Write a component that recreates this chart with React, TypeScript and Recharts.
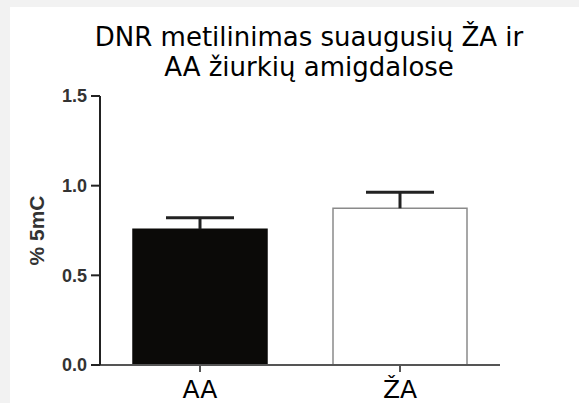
import { BarChart, Bar, XAxis, YAxis, Cell } from "recharts";

const groups = ["AA", "ŽA"];
const means = [0.757, 0.874];
const errors = [0.064, 0.089];
const yTicks = [0, 0.5, 1.0, 1.5];
const fills = ["#0b0a08", "#ffffff"];
const strokes = ["#0b0a08", "#8a8a8a"];

const data = groups.map((g, i) => ({ group: g, mean: means[i], err: errors[i] }));

// upward-only error bar drawn on top of the stacked mean
function ErrShape(props: any) {
  const { x, y, width, height } = props;
  const cx = x + width / 2;
  return (
    <g stroke="#222" strokeWidth={3}>
      <line x1={cx} y1={y} x2={cx} y2={y + height} />
      <line x1={cx - 34} y1={y} x2={cx + 34} y2={y} />
    </g>
  );
}

export default function App() {
  return (
    <div
      style={{
        position: "absolute",
        left: 0,
        top: 0,
        width: 579,
        height: 403,
        background: "#f2f2f2",
        fontFamily: "'DejaVu Sans', sans-serif",
      }}
    >
      <div style={{ position: "absolute", left: 10, top: 7, right: 0, bottom: 0, background: "#fff" }} />
      <div
        style={{
          position: "absolute",
          left: 90,
          top: 22,
          width: 438,
          textAlign: "center",
          fontSize: 26,
          lineHeight: "30px",
          color: "#000",
        }}
      >
        DNR metilinimas suaugusių ŽA ir
        <br />
        AA žiurkių amigdalose
      </div>
      <div style={{ position: "absolute", left: 0, top: 0 }}>
        <BarChart
          width={579}
          height={403}
          data={data}
          margin={{ top: 96, right: 79, bottom: 8, left: 0 }}
          barCategoryGap="16.5%"
        >
          <XAxis
            dataKey="group"
            height={30}
            axisLine={{ stroke: "#555", strokeWidth: 2 }}
            tickLine={{ stroke: "#555", strokeWidth: 2 }}
            tickSize={7}
            tickMargin={8}
            tick={{ fontSize: 25, fill: "#000", fontFamily: "'DejaVu Sans', sans-serif" }}
          />
          <YAxis
            width={100}
            domain={[0, 1.5]}
            ticks={yTicks}
            tickFormatter={(v) => Number(v).toFixed(1)}
            axisLine={{ stroke: "#222", strokeWidth: 2 }}
            tickLine={{ stroke: "#222", strokeWidth: 2 }}
            tickSize={9}
            tickMargin={4}
            tick={{ fontSize: 18, fontWeight: "bold", fill: "#333", fontFamily: "'Liberation Sans', Arial, sans-serif" }}
            label={{
              value: "% 5mC",
              angle: -90,
              position: "center",
              dx: -13,
              style: { fontSize: 21, fontWeight: "bold", fill: "#333", fontFamily: "'Liberation Sans', Arial, sans-serif" },
            }}
          />
          <Bar dataKey="mean" stackId="a" isAnimationActive={false}>
            {data.map((d, i) => (
              <Cell key={d.group} fill={fills[i]} stroke={strokes[i]} strokeWidth={1.5} />
            ))}
          </Bar>
          <Bar dataKey="err" stackId="a" isAnimationActive={false} shape={<ErrShape />} />
        </BarChart>
      </div>
    </div>
  );
}
